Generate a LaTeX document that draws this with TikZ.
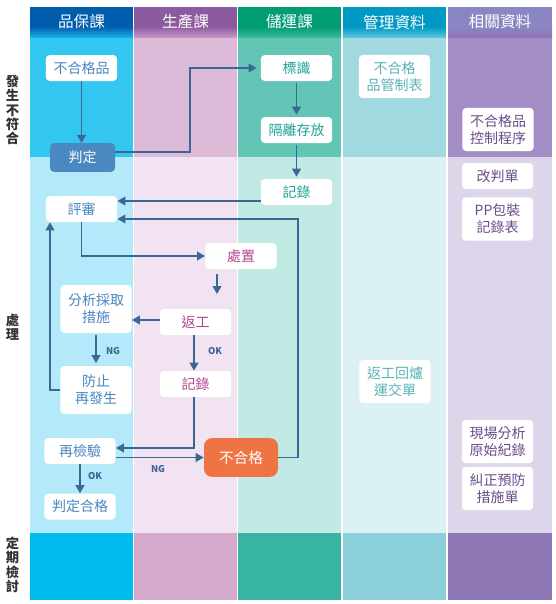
\documentclass[tikz,border=0pt]{standalone}
\usepackage{fontspec}
\newfontfamily\cjk{Noto Sans CJK TC}
\usetikzlibrary{arrows.meta,calc}
% column colours: header top / header bottom / row1 / row2 / row3
\definecolor{colah}{HTML}{005DAD}\definecolor{colab}{HTML}{1CB2EA}\definecolor{colaa}{HTML}{33C6F0}\definecolor{colam}{HTML}{B3E9F9}\definecolor{colaz}{HTML}{00BBED}
\definecolor{colbh}{HTML}{8C5A9F}\definecolor{colbb}{HTML}{C79CCB}\definecolor{colba}{HTML}{DDBAD7}\definecolor{colbm}{HTML}{F1E3F1}\definecolor{colbz}{HTML}{D4A9CC}
\definecolor{colch}{HTML}{009C72}\definecolor{colcb}{HTML}{3DBBA0}\definecolor{colca}{HTML}{62C5B5}\definecolor{colcm}{HTML}{C2EAE5}\definecolor{colcz}{HTML}{38B4A4}
\definecolor{coldh}{HTML}{0099C6}\definecolor{coldb}{HTML}{5FC8DE}\definecolor{colda}{HTML}{A0D9E0}\definecolor{coldm}{HTML}{DBF0F3}\definecolor{coldz}{HTML}{8ACFD9}
\definecolor{coleh}{HTML}{8A86C3}\definecolor{coleb}{HTML}{9174B4}\definecolor{colea}{HTML}{A48DC5}\definecolor{colem}{HTML}{DDD5E9}\definecolor{colez}{HTML}{8D77B5}
\definecolor{txta}{HTML}{4A86C0}\definecolor{txtb}{HTML}{B0468F}\definecolor{txtc}{HTML}{23A196}\definecolor{txtd}{HTML}{5BB3B7}\definecolor{txte}{HTML}{6B4C8A}
\definecolor{linecol}{HTML}{3B6796}\definecolor{pdfill}{HTML}{4A88C2}\definecolor{orng}{HTML}{EE7444}\definecolor{rowtxt}{HTML}{333333}
\begin{document}
\begin{tikzpicture}[x=0.75pt,y=-0.75pt,
  box/.style={fill=white, rounded corners=3pt, minimum width=53.5pt, minimum height=19.5pt, inner sep=0pt, align=center,
    font=\cjk\fontsize{10.5}{12.7}\selectfont},
  boxa/.style={box, text=txta}, boxb/.style={box, text=txtb}, boxc/.style={box, text=txtc},
  boxd/.style={box, text=txtd}, boxe/.style={box, text=txte},
  tall/.style={minimum height=32.5pt},
  hdr/.style={text=white, font=\cjk\fontsize{11.75}{13}\selectfont},
  rowlab/.style={text=rowtxt, align=center, font=\cjk\bfseries\fontsize{10}{10.8}\selectfont},
  lab/.style={text=linecol, inner sep=0pt, font=\cjk\bfseries\fontsize{7}{8}\selectfont},
  arr/.style={draw=linecol, line width=1.2pt, -{Triangle[length=6pt,width=6.5pt]}}]
\useasboundingbox (0,0) rectangle (556,604);
% columns
\foreach \xa/\xb/\c in {30/133/a,134/237/b,238/341/c,343/446/d,448/552/e}{
  \fill[fill=col\c h] (\xa,7) rectangle (\xb,27);
  \shade[top color=col\c h, bottom color=col\c b] (\xa,26.5) rectangle (\xb,38);
  \fill[fill=col\c a] (\xa,38) rectangle (\xb,157);
  \fill[fill=col\c m] (\xa,157) rectangle (\xb,533);
  \fill[fill=col\c z] (\xa,533) rectangle (\xb,600);
}
% headers
\node[hdr] (h1) at (81.5,22) {品保課};
\node[hdr] (h2) at (185.5,22) {生產課};
\node[hdr] (h3) at (289.5,22) {儲運課};
\node[hdr] (h4) at (394.5,22) {管理資料};
\node[hdr] (h5) at (500,22) {相關資料};
% row labels
\node[rowlab] (r1) at (12.5,110) {發\\生\\不\\符\\合};
\node[rowlab] (r2) at (12.5,327) {處\\理};
\node[rowlab] (r3) at (12.5,565) {定\\期\\檢\\討};
% nodes
\node[boxa] (a1) at (81.5,68) {不合格品};
\node[box, fill=pdfill, text=white, minimum width=48.75pt, minimum height=21.5pt] (pd) at (82.5,157.5) {判定};
\node[boxc] (bs) at (296.5,68) {標識};
\node[boxc] (gl) at (296.5,130) {隔離存放};
\node[boxc] (jl3) at (296.5,192) {記錄};
\node[boxd, tall] (gz) at (394.5,76.5) {不合格\\品管制表};
\node[boxe, tall] (kz) at (498,129.5) {不合格品\\控制程序};
\node[boxe] (gp) at (497.5,176) {改判單};
\node[boxe, tall] (pp) at (497.5,219) {PP包裝\\記錄表};
\node[boxa] (ps) at (81.5,209) {評審};
\node[boxb] (cz) at (241,256) {處置};
\node[boxa, minimum height=36pt] (fx) at (96,309) {分析採取\\措施};
\node[boxb] (fg) at (195.5,322) {返工};
\node[boxa, minimum height=36pt] (fz) at (96,390) {防止\\再發生};
\node[boxb] (jl2) at (195.5,384) {記錄};
\node[boxa] (zj) at (80,451) {再檢驗};
\node[boxa] (hg) at (80,506.5) {判定合格};
\node[box, fill=orng, text=white, rounded corners=6pt, minimum width=55.5pt, minimum height=29pt, font=\cjk\fontsize{11}{12.7}\selectfont] (bhg) at (241,457.5) {不合格};
\node[boxd, tall] (fl) at (395,381.5) {返工回爐\\運交單};
\node[boxe, tall] (xc) at (497.5,441.5) {現場分析\\原始紀錄};
\node[boxe, tall] (jz) at (497.5,488.5) {糾正預防\\措施單};
% labels
\node[lab] (ng1) at (113,351) {NG};
\node[lab] (ok1) at (215,351) {OK};
\node[lab] (ng2) at (158,469) {NG};
\node[lab] (ok2) at (95,476) {OK};
% connectors
\draw[arr] (a1.south) -- (a1.south |- pd.north);
\draw[arr, shorten >=3pt] (pd.east |- 0,152) -- (190,152) -- (190,68) -- (bs.west);
\draw[arr, shorten <=1pt, shorten >=1.5pt] (bs.south) -- (gl.north);
\draw[arr, shorten <=1pt, shorten >=1.5pt] (gl.south) -- (jl3.north);
\draw[arr] (jl3.west |- 0,201) -- (ps.east |- 0,201);
\draw[arr] (bhg.east) -- (298,457.5) -- (298,219) -- (ps.east |- 0,219);
\draw[arr] (ps.south) |- (cz.west);
\draw[arr, shorten <=3.75pt, shorten >=11pt] (cz.south -| 217,0) -- (fg.north -| 217,0);
\draw[arr] (fg.west |- 0,320) -- (fx.east |- 0,320);
\draw[arr, shorten <=1.5pt, shorten >=2pt] (fx.south) -- (fz.north);
\draw[arr] (fg.south -| 194,0) -- (jl2.north -| 194,0);
\draw[arr] (fz.west) -- (50,390) -- (ps.south -| 50,0);
\draw[arr] (jl2.south -| 194,0) |- (zj.east |- 0,448);
\draw[arr] (zj.east |- 0,457.5) -- (bhg.west);
\draw[arr] (zj.south) -- (hg.north);
\end{tikzpicture}
\end{document}
